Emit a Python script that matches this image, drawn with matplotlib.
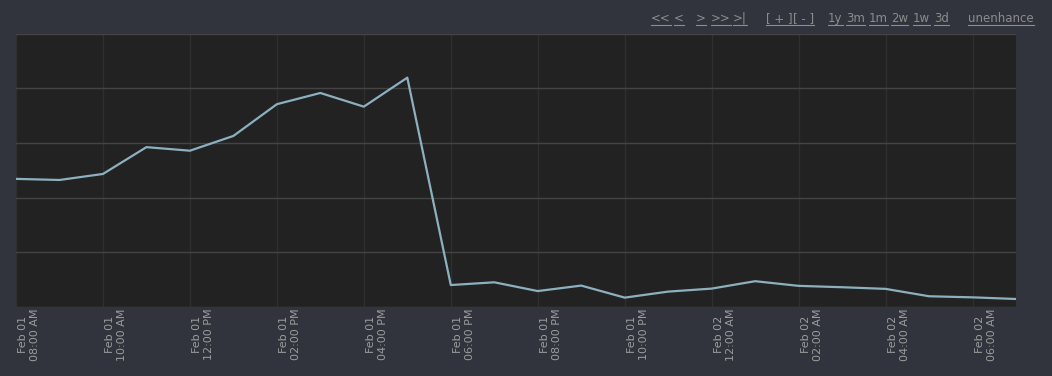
import matplotlib
matplotlib.use("Agg")
import matplotlib.pyplot as plt
import matplotlib.dates as mdates
import matplotlib.transforms as mtransforms
import pandas as pd

# Data
start_time = "2024-02-01 08:00"
n_points = 24
values = [46.9, 46.5, 48.7, 58.5, 57.2, 62.6, 74.2, 78.3, 73.3, 83.9,
          8.1, 9.1, 5.9, 7.9, 3.5, 5.7, 6.8, 9.5, 7.8, 7.3, 6.7, 4.0, 3.6, 3.0]
y_ticks = [0, 20, 40, 60, 80, 100]
nav_links = ["<<", "<", ">", ">>", ">|", "[ + ]", "[ - ]",
             "1y", "3m", "1m", "2w", "1w", "3d", "unenhance"]
nav_x = [651, 674, 696, 711, 733, 766, 793, 828, 846, 869, 891, 913, 934, 968]

times = pd.date_range(start_time, periods=n_points, freq="h")

W, H = 1052, 376
fig = plt.figure(figsize=(W / 100, H / 100), dpi=100)
fig.patch.set_facecolor("#31343d")
ax = fig.add_axes([16 / W, (H - 307.2) / H, 1000 / W, (307.2 - 33.6) / H])
ax.set_facecolor("#222222")

ax.plot(times, values, color="#8cb0bf", lw=1.6, solid_joinstyle="round")
ax.set_xlim(times[0], times[-1])
ax.set_ylim(y_ticks[0], y_ticks[-1])
ax.set_yticks(y_ticks)
ax.tick_params(axis="y", left=False, labelleft=False)
ax.grid(axis="y", color="#444444", lw=1.0)
ax.grid(axis="x", color="#2f2f2f", lw=1.0)
for s in ax.spines.values():
    s.set_visible(False)

ax.xaxis.set_major_locator(mdates.HourLocator(byhour=range(0, 24, 2)))
ax.xaxis.set_major_formatter(mdates.DateFormatter("%b %d\n%I:%M %p"))
ax.tick_params(axis="x", length=0, pad=1, colors="#9c9c9c", labelsize=8)
offset = mtransforms.ScaledTranslation(2.5 / 100, 0, fig.dpi_scale_trans)
for lab in ax.get_xticklabels():
    lab.set_rotation(90)
    lab.set_ha("left")
    lab.set_va("top")
    lab.set_multialignment("center")
    lab.set_transform(lab.get_transform() + offset)

# navigation links (underlined)
fig.canvas.draw()
renderer = fig.canvas.get_renderer()
for txt, x in zip(nav_links, nav_x):
    t = fig.text(x / W, (H - 22) / H, txt, color="#8c8c8c", fontsize=8.5,
                 ha="left", va="baseline")
    bb = t.get_window_extent(renderer)
    y_line = (H - 24.5) / H
    fig.add_artist(plt.Line2D([bb.x0 / W, bb.x1 / W], [y_line, y_line],
                              transform=fig.transFigure, color="#8c8c8c", lw=0.8))

fig.savefig("out.png", dpi=100, facecolor=fig.get_facecolor())
